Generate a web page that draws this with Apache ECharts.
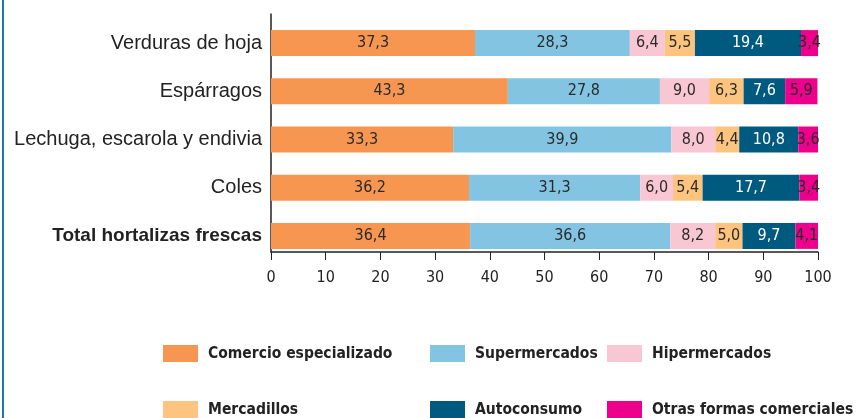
<!DOCTYPE html>
<html>
<head>
<meta charset="utf-8">
<style>
html,body{margin:0;padding:0;background:#fff;}
#wrap{position:relative;width:858px;height:418px;}
#frame{position:absolute;left:2px;top:0;width:2px;height:418px;background:#1f77a3;}
#main{position:absolute;left:0;top:0;width:858px;height:418px;}
</style>
<script src="https://cdn.jsdelivr.net/npm/echarts@6/dist/echarts.min.js"></script>
</head>
<body>
<div id="wrap"><div id="frame"></div><div id="main"></div></div>
<script>
const categories = ['Verduras de hoja', 'Espárragos', 'Lechuga, escarola y endivia', 'Coles', 'Total hortalizas frescas'];
const seriesNames = ['Comercio especializado', 'Supermercados', 'Hipermercados', 'Mercadillos', 'Autoconsumo', 'Otras formas comerciales'];
const comercio = [37.3, 43.3, 33.3, 36.2, 36.4];
const supermercados = [28.3, 27.8, 39.9, 31.3, 36.6];
const hipermercados = [6.4, 9.0, 8.0, 6.0, 8.2];
const mercadillos = [5.5, 6.3, 4.4, 5.4, 5.0];
const autoconsumo = [19.4, 7.6, 10.8, 17.7, 9.7];
const otras = [3.4, 5.9, 3.6, 3.4, 4.1];
const xTicks = [0, 10, 20, 30, 40, 50, 60, 70, 80, 90, 100];

const colors = ['#F79651', '#82C4E2', '#F9C6D3', '#FDC47F', '#005A80', '#EC008C'];
const labelColors = ['#2a2a2a', '#2a2a2a', '#2a2a2a', '#2a2a2a', '#fff', '#2a2a2a'];
const values = [comercio, supermercados, hipermercados, mercadillos, autoconsumo, otras];
const narrow = '"DejaVu Sans Condensed", "DejaVu Sans", sans-serif';

const series = seriesNames.map((name, i) => ({
  name: name,
  type: 'bar',
  stack: 'total',
  xAxisIndex: 0,
  yAxisIndex: 0,
  barWidth: 26,
  itemStyle: { color: colors[i] },
  label: {
    show: true,
    position: 'inside',
    color: labelColors[i],
    fontFamily: narrow,
    fontSize: 16,
    formatter: p => p.value.toFixed(1).replace('.', ',')
  },
  data: values[i]
}));

const legendLeft = [158, 425, 602];
const legendTop = [340, 396];
const legends = seriesNames.map((name, j) => ({
  orient: 'horizontal',
  left: legendLeft[j % 3],
  top: legendTop[Math.floor(j / 3)],
  itemWidth: 35,
  itemHeight: 17,
  icon: 'rect',
  selectedMode: false,
  textStyle: { fontFamily: narrow, fontWeight: 'bold', fontSize: 15.5, color: '#222', padding: [0, 0, 0, 5] },
  data: [name]
}));

const option = {
  animation: false,
  legend: legends,
  grid: [
    { left: 271, right: 40, top: 19, height: 241 },
    { left: 271, right: 40, top: 14, height: 238 }
  ],
  xAxis: [
    { gridIndex: 0, type: 'value', min: 0, max: 100, show: false },
    {
      gridIndex: 1, type: 'value', min: 0, max: 100, interval: 10,
      axisLine: { show: true, lineStyle: { color: '#222', width: 1.5 } },
      axisTick: { show: true, length: 8, lineStyle: { color: '#222' } },
      splitLine: { show: false },
      axisLabel: {
        margin: 18, color: '#222', fontFamily: narrow, fontSize: 16,
        formatter: v => xTicks.includes(v) ? String(v) : ''
      }
    }
  ],
  yAxis: [
    {
      gridIndex: 0, type: 'category', inverse: true, data: categories,
      axisLine: { show: false }, axisTick: { show: false },
      axisLabel: {
        margin: 9, color: '#222', fontFamily: '"Liberation Sans", Arial, sans-serif', fontSize: 20,
        formatter: v => v === 'Total hortalizas frescas' ? '{b|' + v + '}' : v,
        rich: { b: { fontWeight: 'bold', fontSize: 19, color: '#222', fontFamily: '"Liberation Sans", Arial, sans-serif' } }
      }
    },
    {
      gridIndex: 1, type: 'category', data: categories,
      axisLine: { show: true, lineStyle: { color: '#222', width: 1.5 } },
      axisTick: { show: false }, axisLabel: { show: false }
    }
  ],
  series: series
};

const chart = echarts.init(document.getElementById('main'), null, { renderer: 'canvas' });
chart.setOption(option);
</script>
</body>
</html>
